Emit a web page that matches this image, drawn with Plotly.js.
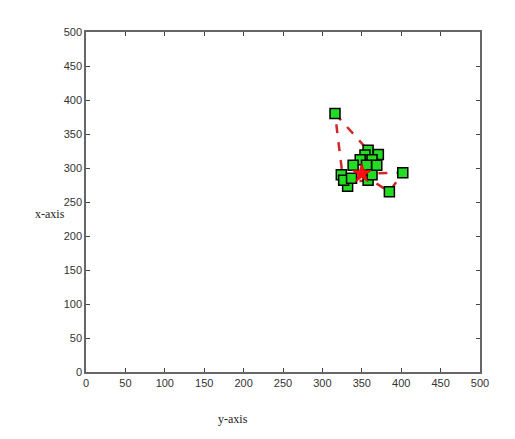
<!DOCTYPE html>
<html>
<head>
<meta charset="utf-8">
<script src="https://cdn.plot.ly/plotly-3.0.1.min.js"></script>
<style>
  body { margin: 0; background: #fff; }
  #plot { width: 515px; height: 439px; }
</style>
</head>
<body>
<div id="plot"></div>
<script>
// node positions (green squares)
var nodeX = [316, 402, 385, 332, 358, 371, 354, 363, 348, 339, 356, 324, 327, 337, 358, 363, 369];
var nodeY = [380, 293, 265, 273, 326, 320, 319, 312, 312, 304, 304, 290, 282, 285, 282, 290, 304];

// central point (red star)
var centerX = [350];
var centerY = [292];

// dashed route through the nodes
var routeX = [316, 358, 350, 402, 385, 362, 332, 326, 316];
var routeY = [380, 326, 292, 293, 265, 282, 280, 285, 380];

var route = {
  x: routeX,
  y: routeY,
  mode: "lines",
  line: {color: "#d02828", width: 2.5, dash: "dash"},
  hoverinfo: "skip"
};

var nodes = {
  x: nodeX,
  y: nodeY,
  mode: "markers",
  marker: {symbol: "square", size: 10, color: "#22dd22", line: {color: "#000", width: 1.5}}
};

var center = {
  x: centerX,
  y: centerY,
  mode: "markers",
  marker: {symbol: "star", size: 15, color: "#ff1010", line: {color: "#c00000", width: 0.5}}
};

var axisStyle = {
  range: [0, 500],
  dtick: 50,
  ticks: "inside",
  ticklen: 4,
  tickcolor: "#444",
  showline: true,
  linecolor: "#666",
  linewidth: 1.5,
  mirror: "ticks",
  showgrid: false,
  zeroline: false,
  tickfont: {family: "Liberation Sans, Arial", size: 11, color: "#333"}
};

var layout = {
  width: 515,
  height: 439,
  margin: {l: 86, r: 35, t: 32, b: 67},
  showlegend: false,
  paper_bgcolor: "#fff",
  plot_bgcolor: "#fff",
  xaxis: Object.assign({}, axisStyle),
  yaxis: Object.assign({}, axisStyle),
  annotations: [
    {text: "x-axis", xref: "paper", yref: "paper", x: -0.135, y: 0.465,
     showarrow: false, font: {family: "Liberation Serif", size: 12, color: "#222"}},
    {text: "y-axis", xref: "paper", yref: "paper", x: 0.373, y: -0.165,
     showarrow: false, font: {family: "Liberation Serif", size: 12, color: "#222"}}
  ]
};

Plotly.newPlot("plot", [route, nodes, center], layout, {displayModeBar: false});
</script>
</body>
</html>
